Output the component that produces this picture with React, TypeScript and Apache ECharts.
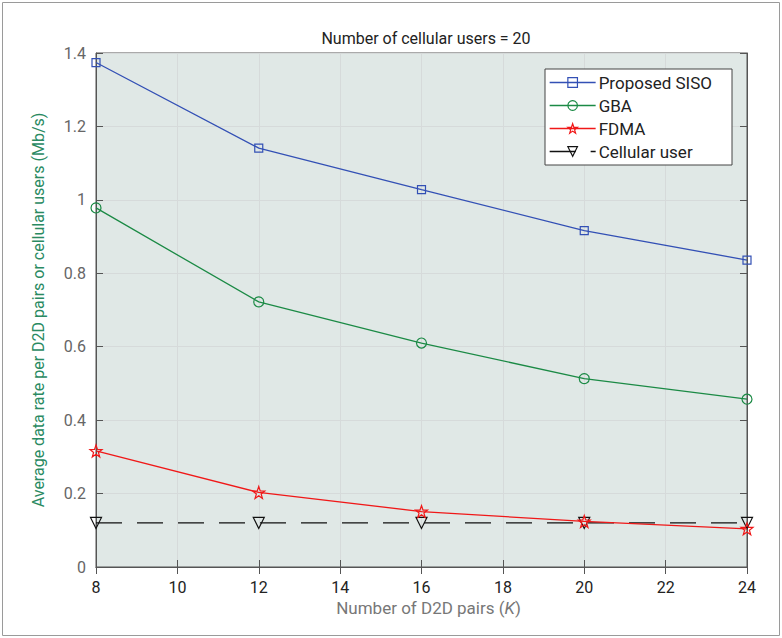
import React, { useEffect, useRef } from "react";
import * as echarts from "echarts";

const xCats = [8, 12, 16, 20, 24];
const sisoVals = [1.374, 1.141, 1.028, 0.916, 0.836];
const gbaVals = [0.978, 0.722, 0.61, 0.513, 0.457];
const fdmaVals = [0.316, 0.203, 0.151, 0.124, 0.104];
const cellVals = [0.12, 0.12, 0.12, 0.12, 0.12];

const FONT = "Roboto, 'Noto Sans', sans-serif";
const STAR =
  "path://M0,-10 L2.35,-3.24 L9.51,-3.09 L3.8,1.24 L5.88,8.09 L0,4 L-5.88,8.09 L-3.8,1.24 L-9.51,-3.09 L-2.35,-3.24 Z";

const pairs = (vals: number[]) => xCats.map((x, i) => [x, vals[i]]);

export default function App() {
  const ref = useRef<HTMLDivElement>(null);
  useEffect(() => {
    const chart = echarts.init(ref.current!, null, { renderer: "svg" });
    const mk = (
      name: string,
      vals: number[],
      color: string,
      symbol: string,
      size: number,
      extra: any = {}
    ) => ({
      name,
      type: "line",
      data: pairs(vals),
      symbol,
      symbolSize: size,
      showAllSymbol: true,
      lineStyle: { color, width: 1.3, ...(extra.lineStyle || {}) },
      itemStyle: { color: "rgba(0,0,0,0)", borderColor: color, borderWidth: 1.2 },
      ...extra.rest,
    });
    chart.setOption({
      animation: false,
      backgroundColor: "#ffffff",
      textStyle: { fontFamily: FONT },
      title: {
        text: "Number of cellular users = 20",
        left: 421,
        textAlign: "center",
        top: 25,
        textStyle: { fontFamily: FONT, fontSize: 16, fontWeight: "normal", color: "#222" },
      },
      graphic: [
        {
          type: "rect",
          shape: { x: 2.5, y: 2.5, width: 777, height: 633 },
          style: { fill: "none", stroke: "#9a9a9a", lineWidth: 1 },
          silent: true,
        },
      ],
      grid: {
        left: 96,
        right: 35,
        top: 53,
        bottom: 71,
        show: true,
        backgroundColor: "#e0e8e6",
        borderColor: "#555",
        borderWidth: 1,
      },
      legend: {
        orient: "vertical",
        left: 545,
        top: 69,
        width: 184,
        backgroundColor: "#ffffff",
        borderColor: "#444",
        borderWidth: 1,
        borderRadius: 0,
        padding: [5, 20, 5, 4],
        itemWidth: 46,
        itemHeight: 12,
        itemGap: 6,
        lineStyle: { width: 1.3 },
        itemStyle: { borderWidth: 1.2 },
        textStyle: { fontFamily: FONT, fontSize: 17, color: "#222", padding: [0, 0, 0, -2] },
        data: ["Proposed SISO", "GBA", "FDMA", "Cellular user"],
      },
      xAxis: [
        {
          type: "value",
          min: 8,
          max: 24,
          interval: 2,
          name: "Number of D2D pairs ({i|K})",
          nameLocation: "middle",
          nameGap: 31,
          nameTextStyle: {
            fontFamily: FONT,
            fontSize: 17,
            color: "#777",
            padding: [0, 0, 0, 14],
            rich: { i: { fontStyle: "italic", fontFamily: FONT, fontSize: 17, color: "#777" } },
          },
          axisLine: { show: true, onZero: false, lineStyle: { color: "#555", width: 1 } },
          axisTick: { show: true, inside: true, length: 7, lineStyle: { color: "#555" } },
          axisLabel: { fontFamily: FONT, fontSize: 16, color: "#222", margin: 12 },
          splitLine: { show: true, lineStyle: { color: "#d6dada", width: 1 } },
        },
        {
          type: "value",
          position: "top",
          min: 8,
          max: 24,
          interval: 2,
          axisLine: { show: true, lineStyle: { color: "#555" } },
          axisTick: { show: true, inside: true, length: 7, lineStyle: { color: "#555" } },
          axisLabel: { show: false },
          splitLine: { show: false },
        },
      ],
      yAxis: [
        {
          type: "value",
          min: 0,
          max: 1.4,
          interval: 0.2,
          name: "Average data rate per D2D pairs or cellular users (Mb/s)",
          nameLocation: "middle",
          nameGap: 50,
          nameTextStyle: { fontFamily: FONT, fontSize: 16, color: "#2a8a62" },
          axisLine: { show: true, onZero: false, lineStyle: { color: "#555", width: 1 } },
          axisTick: { show: true, inside: true, length: 7, lineStyle: { color: "#555" } },
          axisLabel: {
            fontFamily: FONT,
            fontSize: 16,
            color: "#666",
            margin: 10,
            formatter: (v: number) => (Math.abs(v - Math.round(v)) < 1e-9 ? String(Math.round(v)) : String(+v.toFixed(1))),
          },
          splitLine: { show: true, lineStyle: { color: "#d6dada", width: 1 } },
        },
        {
          type: "value",
          position: "right",
          min: 0,
          max: 1.4,
          interval: 0.2,
          axisLine: { show: true, lineStyle: { color: "#555" } },
          axisTick: { show: true, inside: true, length: 7, lineStyle: { color: "#555" } },
          axisLabel: { show: false },
          splitLine: { show: false },
        },
      ],
      series: [
        mk("Proposed SISO", sisoVals, "#3350b5", "rect", 8),
        mk("GBA", gbaVals, "#1b8a45", "circle", 10),
        mk("FDMA", fdmaVals, "#f01818", STAR, 12),
        mk("Cellular user", cellVals, "#111111", "triangle", 11, {
          lineStyle: { type: [26, 15], width: 1.2 },
          rest: { symbolRotate: 180, z: 1 },
        }),
      ],
    });
    return () => chart.dispose();
  }, []);
  return (
    <div
      ref={ref}
      style={{ position: "absolute", left: 0, top: 0, width: 782, height: 638 }}
    />
  );
}
